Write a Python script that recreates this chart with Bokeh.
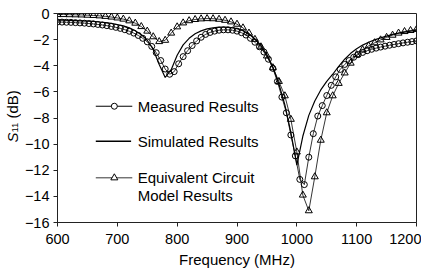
import numpy as np
from bokeh.plotting import figure
from bokeh.layouts import row
from bokeh.models import Range1d, FixedTicker, Label
from bokeh.core.properties import value
from bokeh.embed import file_html
from bokeh.resources import INLINE

# ---------------- data ----------------
freq_meas = np.arange(600, 1200.1, 7.5)
s11_meas = [-0.65, -0.66, -0.67, -0.68, -0.70, -0.72, -0.74, -0.77, -0.80, -0.84,
            -0.88, -0.93, -0.99, -1.06, -1.14, -1.24, -1.36, -1.50, -1.68, -1.90,
            -2.17, -2.52, -3.00, -3.60, -4.25, -4.65, -4.45, -3.85, -3.30, -2.85,
            -2.45, -2.10, -1.82, -1.60, -1.45, -1.35, -1.28, -1.25, -1.25, -1.28,
            -1.35, -1.47, -1.65, -1.90, -2.20, -2.55, -2.95, -3.50, -4.20, -5.20,
            -6.40, -7.60, -9.30, -10.90, -12.70, -13.10, -11.00, -9.20, -7.85, -7.05,
            -6.28, -5.50, -4.85, -4.28, -3.90, -3.60, -3.35, -3.15, -2.98, -2.85,
            -2.74, -2.65, -2.57, -2.50, -2.43, -2.37, -2.31, -2.25, -2.20, -2.15,
            -2.10]

freq_sim = np.arange(600, 1200.1, 10)
s11_sim = [-0.50, -0.51, -0.52, -0.54, -0.56, -0.58, -0.61, -0.65, -0.70, -0.76,
           -0.84, -0.95, -1.10, -1.32, -1.62, -2.05, -2.75, -3.90, -4.90, -4.30,
           -3.20, -2.40, -1.90, -1.55, -1.33, -1.18, -1.10, -1.05, -1.05, -1.08,
           -1.16, -1.32, -1.58, -1.95, -2.45, -3.15, -4.10, -5.40, -7.00, -9.10,
           -11.60, -9.40, -7.80, -6.70, -5.85, -5.20, -4.65, -4.05, -3.50, -3.05,
           -2.70, -2.42, -2.20, -2.02, -1.87, -1.73, -1.60, -1.50, -1.42, -1.35,
           -1.28]

freq_eq = np.arange(600, 1200.1, 10)
s11_eq = [-0.08, -0.08, -0.09, -0.10, -0.11, -0.13, -0.15, -0.18, -0.22, -0.27,
          -0.34, -0.43, -0.56, -0.74, -1.00, -1.35, -1.78, -2.15, -2.05, -1.50,
          -1.02, -0.72, -0.55, -0.46, -0.41, -0.39, -0.40, -0.44, -0.52, -0.64,
          -0.82, -1.10, -1.50, -1.98, -2.55, -3.25, -4.15, -5.20, -6.30, -8.10,
          -10.60, -13.90, -15.10, -12.50, -9.70, -7.60, -6.30, -5.35, -4.55, -3.80,
          -3.15, -2.78, -2.48, -2.24, -2.02, -1.83, -1.66, -1.50, -1.38, -1.30,
          -1.22]

x_ticks = [600, 700, 800, 900, 1000, 1100, 1200]
y_ticks = [0, -2, -4, -6, -8, -10, -12, -14, -16]

FONT = "Liberation Sans"
FS = "15px"

# ---------------- side strip holding the rotated y-axis title ----------------
SIDE_W, SIDE_H = 21, 260
side = figure(title=None, frame_width=SIDE_W, frame_height=SIDE_H, output_backend="svg",
              toolbar_location=None,
              x_range=Range1d(0, SIDE_W), y_range=Range1d(SIDE_H, 0),
              x_axis_location=None, y_axis_location=None,
              min_border_left=0, min_border_right=0, min_border_top=0, min_border_bottom=0)
side.outline_line_color = None
side.xgrid.visible = False
side.ygrid.visible = False
side.background_fill_color = "white"
side.border_fill_color = "white"
side.text(x=[11.5], y=[129], text=["S"], angle=np.pi / 2, text_align="left",
          text_baseline="middle", text_font=value(FONT), text_font_style="italic",
          text_font_size=FS, text_color="black")
side.text(x=[14.5], y=[119], text=["11"], angle=np.pi / 2, text_align="left",
          text_baseline="middle", text_font=value(FONT), text_font_size="9.5px",
          text_color="black")
side.text(x=[11.5], y=[105], text=["(dB)"], angle=np.pi / 2, text_align="left",
          text_baseline="middle", text_font=value(FONT), text_font_size=FS,
          text_color="black")

# ---------------- main plot ----------------
p = figure(frame_width=359, frame_height=209, output_backend="svg", toolbar_location=None,
           x_range=Range1d(600, 1200), y_range=Range1d(-16, 0),
           min_border_left=30, min_border_right=5, min_border_top=13, min_border_bottom=46)
p.background_fill_color = "white"
p.border_fill_color = "white"
p.outline_line_color = "#222222"
p.outline_line_width = 1
p.xgrid.visible = False
p.ygrid.visible = False

for ax in (p.xaxis[0], p.yaxis[0]):
    ax.axis_line_color = "#222222"
    ax.major_tick_line_color = "#222222"
    ax.major_tick_out = 4
    ax.major_tick_in = 0
    ax.minor_tick_line_color = None
    ax.major_label_text_font = FONT
    ax.major_label_text_font_size = "14.5px"
    ax.major_label_text_color = "black"

p.xaxis.ticker = FixedTicker(ticks=x_ticks)
p.yaxis.ticker = FixedTicker(ticks=y_ticks)
p.xaxis.major_label_standoff = 7
p.yaxis.major_label_standoff = 4
p.xaxis.axis_label = "Frequency (MHz)"
p.xaxis.axis_label_text_font = FONT
p.xaxis.axis_label_text_font_style = "normal"
p.xaxis.axis_label_text_font_size = FS
p.xaxis.axis_label_text_color = "black"
p.xaxis.axis_label_standoff = 4

# series
p.line(freq_meas, s11_meas, line_color="black", line_width=0.8)
p.scatter(freq_meas, s11_meas, marker="circle", size=6, fill_color="white",
          fill_alpha=0, line_color="black", line_width=1)
p.line(freq_sim, s11_sim, line_color="black", line_width=1.2)
p.line(freq_eq, s11_eq, line_color="black", line_width=0.8)
p.scatter(freq_eq, s11_eq, marker="triangle", size=7, fill_color="white",
          fill_alpha=0, line_color="black", line_width=1)

# legend (drawn manually)
leg_x0, leg_x1, leg_mx, leg_tx = 664, 725, 695, 734
p.line([leg_x0, leg_x1], [-7.1, -7.1], line_color="black", line_width=1)
p.scatter([leg_mx], [-7.1], marker="circle", size=6, fill_color="white",
          line_color="black", line_width=1)
p.line([leg_x0, 723], [-9.78, -9.78], line_color="black", line_width=1.6)
p.line([leg_x0, leg_x1], [-12.58, -12.58], line_color="black", line_width=0.8)
p.scatter([leg_mx], [-12.58], marker="triangle", size=7, fill_color="white",
          line_color="black", line_width=1)
for txt, yy in [("Measured Results", -7.1), ("Simulated Results", -9.78),
                ("Equivalent Circuit", -12.58), ("Model Results", -13.94)]:
    p.add_layout(Label(x=leg_tx, y=yy, text=txt, text_font=FONT, text_font_size=FS,
                       text_baseline="middle", text_align="left", text_color="black"))

layout = row(side, p)
open("out.html", "w").write(file_html(layout, INLINE))
